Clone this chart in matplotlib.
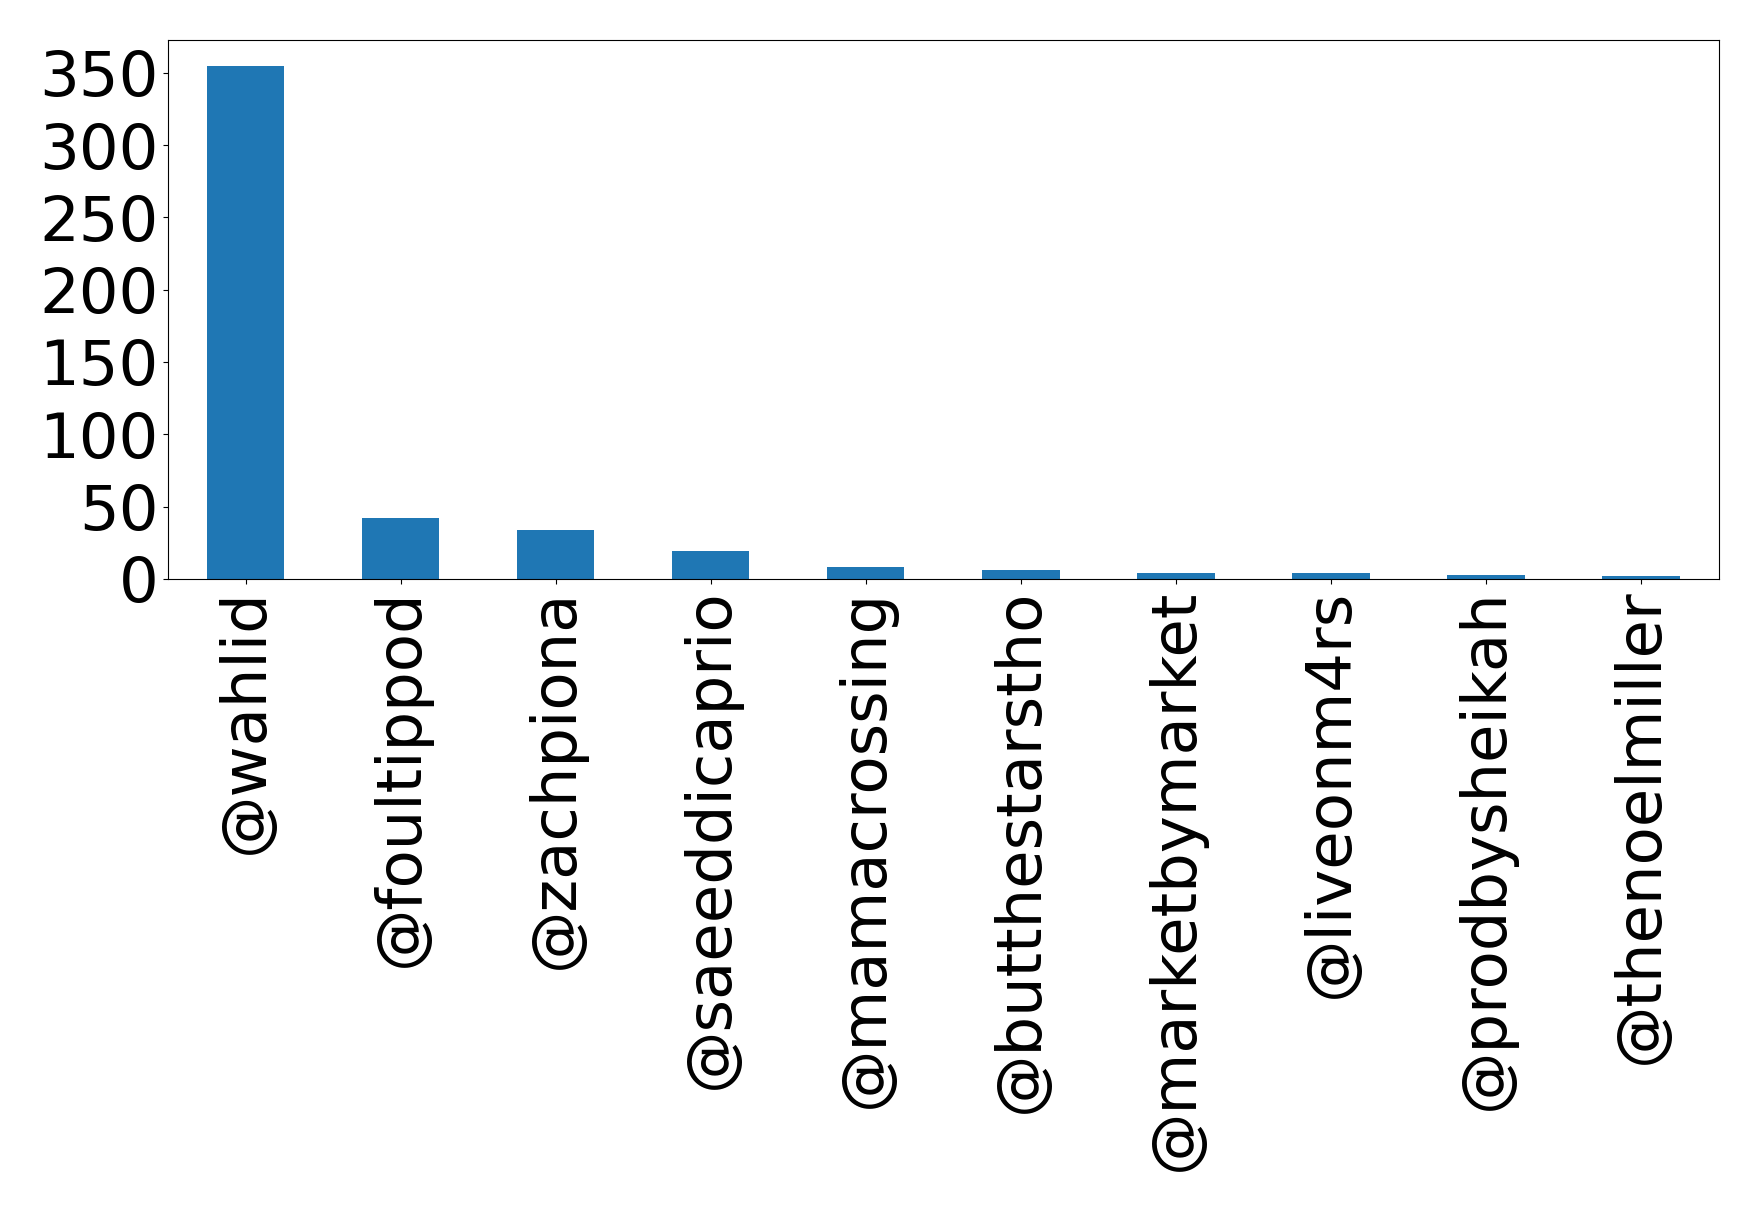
import matplotlib
matplotlib.use("Agg")
import matplotlib.pyplot as plt
import pandas as pd

# ── Data ──────────────────────────────────────────────────────────────────────
accounts = ["@wahlid", "@foultippod", "@zachpiona", "@saeeddicaprio",
            "@mamacrossing", "@butthestarstho", "@marketbymarket",
            "@liveonm4rs", "@prodbysheikah", "@thenoelmiller"]
counts = [355, 42, 34, 19, 8, 6, 4, 4, 3, 2]

# ── Plot ──────────────────────────────────────────────────────────────────────
fig, ax = plt.subplots(figsize=(17.59, 12.11), dpi=100)
fig.subplots_adjust(left=0.0955, right=0.977, top=0.967, bottom=0.522)

s = pd.Series(counts, index=accounts)
s.plot(kind="bar", ax=ax, color="#1f77b4", fontsize=45)
ax.tick_params(axis="x", labelrotation=90)

fig.savefig("out.png", dpi=100)
